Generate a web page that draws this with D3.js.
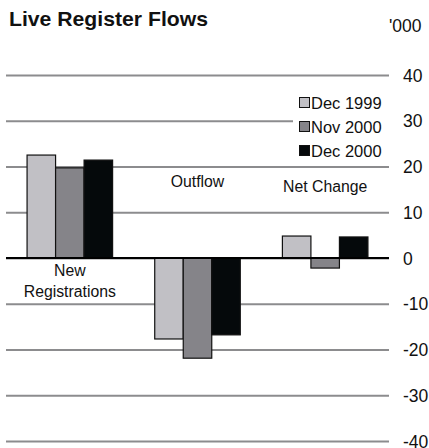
<!DOCTYPE html>
<html><head><meta charset="utf-8">
<script src="https://cdn.jsdelivr.net/npm/d3@7"></script>
<style>body{margin:0;background:#fff;}svg{display:block;font-family:"Liberation Sans",Arial,Helvetica,sans-serif;}</style>
</head><body><div id="chart"></div>
<script>
const categories = ["New Registrations", "Outflow", "Net Change"];
const seriesNames = ["Dec 1999", "Nov 2000", "Dec 2000"];
const dec1999 = [22.5, -17.7, 4.8];
const nov2000 = [19.7, -21.9, -2.2];
const dec2000 = [21.4, -16.8, 4.6];
const tickValues = [40, 30, 20, 10, 0, -10, -20, -30, -40];
const colors = ["#c1c0c5", "#858489", "#05090b"];

const W = 429, H = 448;
const svg = d3.select("#chart").append("svg").attr("width", W).attr("height", H);

const x0 = d3.scaleBand().domain(categories).range([6, 389]).paddingInner(0.33).paddingOuter(0.165);
const x1 = d3.scaleBand().domain(seriesNames).range([0, x0.bandwidth()]);
const y = d3.scaleLinear().domain([-40, 40]).range([441, 75]);

// gridlines via axis
const axis = d3.axisRight(y).tickValues(tickValues).tickSize(383).tickPadding(14).tickFormat(d => String(d));
const gAxis = svg.append("g").attr("transform", "translate(6,0)").call(axis);
gAxis.select(".domain").remove();
gAxis.selectAll(".tick line").attr("stroke", "#8c8c8e").attr("stroke-width", 2.2);
gAxis.selectAll(".tick text").attr("fill", "#111").attr("font-size", 17.5).attr("text-anchor", "start")
  .attr("font-family", "Liberation Sans, Arial, sans-serif").attr("dy", "0.35em");

// legend background
svg.append("rect").attr("x", 293).attr("y", 90).attr("width", 96).attr("height", 69).attr("fill", "#fff");

const series = [dec1999, nov2000, dec2000];
const data = [];
categories.forEach((c, i) => seriesNames.forEach((s, j) => data.push({c, s, v: series[j][i], j})));

svg.append("g").selectAll("rect").data(data).join("rect")
  .attr("x", d => x0(d.c) + x1(d.s))
  .attr("width", x1.bandwidth())
  .attr("y", d => y(Math.max(0, d.v)))
  .attr("height", d => Math.abs(y(d.v) - y(0)))
  .attr("fill", d => colors[d.j])
  .attr("stroke", "#111").attr("stroke-width", 1.2);

// zero line
svg.append("line").attr("x1", 6).attr("x2", 389).attr("y1", y(0)).attr("y2", y(0))
  .attr("stroke", "#000").attr("stroke-width", 2.2);

// category labels
const lab = svg.append("g").attr("font-size", 15.8).attr("fill", "#111").attr("text-anchor", "middle");
const cx = c => x0(c) + x0.bandwidth() / 2;
lab.append("text").attr("x", cx("New Registrations")).attr("y", 276).text("New");
lab.append("text").attr("x", cx("New Registrations")).attr("y", 297).text("Registrations");
lab.append("text").attr("x", cx("Outflow")).attr("y", 187).text("Outflow");
lab.append("text").attr("x", cx("Net Change")).attr("y", 192).text("Net Change");

// legend
const lg = svg.append("g").attr("font-size", 16.5).attr("fill", "#111");
seriesNames.forEach((s, j) => {
  const yy = 103 + j * 24;
  lg.append("rect").attr("x", 299.5).attr("y", yy - 5.5).attr("width", 10).attr("height", 10)
    .attr("fill", colors[j]).attr("stroke", "#111").attr("stroke-width", 1);
  lg.append("text").attr("x", 311).attr("y", yy).attr("dy", "0.35em").text(s);
});

// title
svg.append("text").attr("x", 9).attr("y", 26).attr("font-size", 21).attr("font-weight", "bold").attr("fill", "#111")
  .attr("textLength", 199).attr("lengthAdjust", "spacingAndGlyphs").text("Live Register Flows");
svg.append("text").attr("x", 389).attr("y", 32).attr("font-size", 17.5).attr("fill", "#111").text("'000");
</script></body></html>
